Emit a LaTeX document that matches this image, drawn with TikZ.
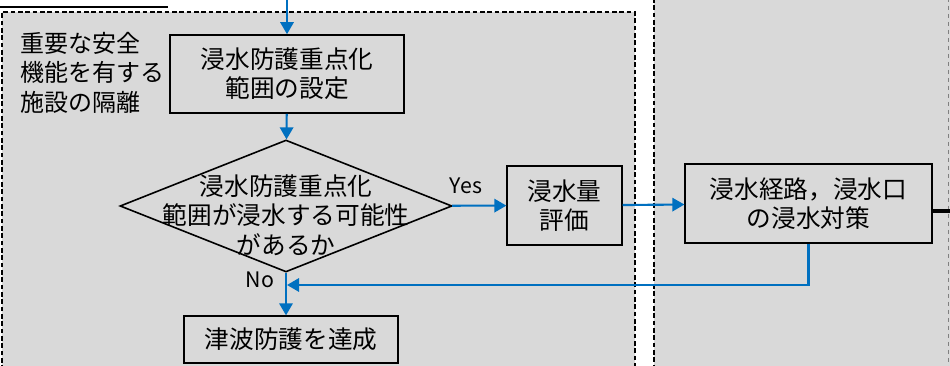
\documentclass[tikz,border=0pt]{standalone}
\usepackage{fontspec}
\setmainfont{Noto Sans CJK JP}
\usetikzlibrary{arrows.meta,shapes.geometric}
\definecolor{flowblue}{HTML}{0070C0}
\definecolor{areagray}{HTML}{D9D9D9}

\begin{document}
\begin{tikzpicture}[x=0.75pt,y=-0.75pt,
  box/.style={draw, line width=1.2pt, align=center, inner sep=0pt, font=\fontsize{18.5}{22}\selectfont},
  flow/.style={flowblue, line width=1.6pt, -{Triangle[length=9pt,width=10pt]}},
  zone/.style={black, line width=1.6pt, dash pattern=on 3.5pt off 2pt},
  lbl/.style={font=\fontsize{16}{18}\selectfont}]
\useasboundingbox (0,0) rectangle (950,366);
% background areas
\fill[areagray] (2,12) rectangle (635,370);
\fill[areagray] (654,-2) rectangle (950,370);
\draw[zone] (2,370) -- (2,12) -- (635,12) -- (635,370);
\draw[zone] (654,-2) -- (654,370);
\draw[gray, line width=0.7pt, dashed] (948,-2) -- (948,370);
\draw[line width=0.9pt] (0,7) -- (168,7);

% flow nodes
\node[box, minimum width=175.5pt, minimum height=58.5pt] (range) at (287,74) {浸水防護重点化\\範囲の設定};
\node[draw, line width=1.2pt, diamond, inner sep=0pt, minimum width=249pt, minimum height=99pt] (check) at (286,206) {};
\node[box, draw=none] (checktxt) at (286,215) {浸水防護重点化\\範囲が浸水する可能性\\があるか};
\node[box, minimum width=86pt, minimum height=59pt] (amount) at (564.5,205.5) {浸水量\\評価};
\node[box, minimum width=185pt, minimum height=59pt] (route) at (808.5,203.5) {浸水経路，浸水口\\の浸水対策};
\node[box, minimum width=160.5pt, minimum height=35pt] (done) at (291,339.5) {津波防護を達成};
\node[align=left, anchor=north west, inner sep=0pt, font=\fontsize{18}{22}\selectfont] (isolate) at (20,32) {重要な安全\\機能を有する\\施設の隔離};
\node[lbl] (yes) at (466,186) {Yes};
\node[lbl] (no) at (260,280) {No};
\coordinate (entry) at (287,-2);
\coordinate (merge) at (287,285);
\coordinate (tail) at (950,211);

% connectors
\draw[flow] (entry) -- (range);
\draw[flow] (range) -- (check);
\draw[flow] (check) -- (amount);
\draw[flow] (amount) -- (route);
\draw[flow] (check.south) -- (check.south |- done.north);
\draw[flow] (route.south) |- (merge);
\draw[line width=3.5pt] (route.east |- tail) -- (tail);
\end{tikzpicture}
\end{document}
